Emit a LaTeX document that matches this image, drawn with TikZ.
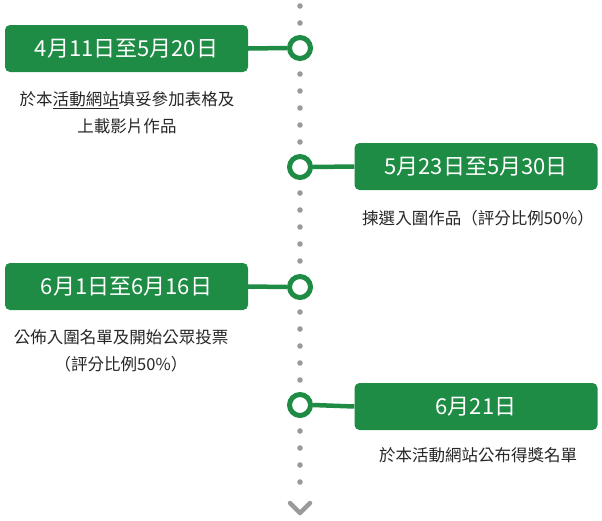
\documentclass[tikz,border=0pt]{standalone}
\usepackage{fontspec}
\setmainfont{Noto Sans CJK TC}
\definecolor{tlgreen}{HTML}{1F8C45}
\definecolor{dotgray}{HTML}{9A9A9A}
\tikzset{
 datebox/.style={fill=tlgreen,rounded corners=5pt,minimum width=243pt,minimum height=47pt,text=white,font=\fontsize{22}{24}\selectfont,inner sep=0pt},
 ring/.style={circle,draw=tlgreen,line width=5pt,fill=white,minimum size=21pt,inner sep=0pt},
 link/.style={draw=tlgreen,line width=4.5pt},
 desc/.style={font=\fontsize{16.5}{27}\selectfont,text=black!85,align=center},
}
\begin{document}
\begin{tikzpicture}[x=1pt,y=-1pt]
\useasboundingbox (0,0) rectangle (602,520);
\foreach \y in {6,23,...,495} \fill[dotgray] (300,\y) circle (2.8pt);
\coordinate (cl) at (290,503);\coordinate (cm) at (300,513);\coordinate (cr) at (310,503);
\draw[dotgray,line width=4.5pt,line cap=round,line join=round] (cl) -- (cm) -- (cr);
\node[datebox] (b1) at (126.5,48.5) {4月11日至5月20日};
\node[ring] (r1) at (300,48) {};
\draw[link] (b1.east) -- (r1.west);
\node[desc] (d1) at (127,113) {於本\underline{活動網站}填妥參加表格及\\上載影片作品};
\node[datebox] (b2) at (476,166.5) {5月23日至5月30日};
\node[ring] (r2) at (300,167) {};
\draw[link] (r2.east) -- (b2.west);
\node[desc] (d2) at (478,218) {揀選入圍作品（評分比例50\%）};
\node[datebox] (b3) at (126.5,286.5) {6月1日至6月16日};
\node[ring] (r3) at (300,287) {};
\draw[link] (b3.east) -- (r3.west);
\node[desc] (d3) at (121,351) {公佈入圍名單及開始公眾投票\\（評分比例50\%）};
\node[datebox] (b4) at (476,406.5) {6月21日};
\node[ring] (r4) at (300,405) {};
\draw[link] (r4.east) -- (b4.west);
\node[desc] (d4) at (478,455) {於本活動網站公布得獎名單};
\end{tikzpicture}
\end{document}
